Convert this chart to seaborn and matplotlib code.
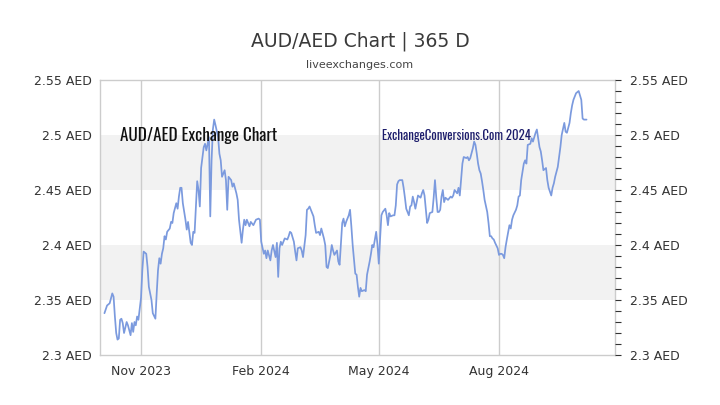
import matplotlib
matplotlib.use("Agg")
import matplotlib.pyplot as plt
import matplotlib.dates as mdates
from matplotlib.ticker import MultipleLocator
import numpy as np
import pandas as pd
import seaborn as sns

# ---------------- data ----------------
ref_date = "2023-11-01"   # day offsets below are counted from this date

days_oct_nov = [-28, -26, -24, -22, -21, -20, -19, -18, -17, -16, -15, -14, -13, -11, -10, -8, -7, -6, -5, -4, -3, -2, -1]
rate_oct_nov = [2.338, 2.345, 2.347, 2.356, 2.353, 2.335, 2.320, 2.314, 2.315, 2.332, 2.333, 2.329, 2.320, 2.330, 2.327, 2.318, 2.329, 2.321, 2.330, 2.327, 2.335, 2.332, 2.342]

days_nov_dec = [0, 1, 2, 4, 5, 6, 8, 9, 11, 12, 13, 14, 15, 16, 17, 18, 19, 20, 22, 23, 24, 25, 27, 28, 29, 30, 31, 32]
rate_nov_dec = [2.352, 2.377, 2.394, 2.392, 2.380, 2.362, 2.350, 2.338, 2.333, 2.356, 2.377, 2.388, 2.383, 2.392, 2.397, 2.408, 2.405, 2.412, 2.415, 2.421, 2.420, 2.429, 2.438, 2.433, 2.444, 2.452, 2.452, 2.438]

days_dec_feb = [34, 35, 36, 38, 39, 40, 41, 43, 44, 45, 46, 48, 49, 50, 52, 53, 54, 55, 56, 57, 59, 60, 61, 62, 64, 65, 66, 67, 69, 70, 71, 73, 74, 75, 77, 78, 79, 80, 81, 83, 84, 86, 88, 90, 91, 92, 94, 95, 96, 97]
rate_dec_feb = [2.423, 2.414, 2.421, 2.402, 2.400, 2.412, 2.411, 2.458, 2.450, 2.435, 2.470, 2.489, 2.492, 2.486, 2.498, 2.426, 2.477, 2.505, 2.514, 2.509, 2.498, 2.483, 2.477, 2.462, 2.468, 2.459, 2.432, 2.462, 2.459, 2.453, 2.456, 2.447, 2.441, 2.423, 2.402, 2.414, 2.423, 2.418, 2.423, 2.417, 2.421, 2.418, 2.423, 2.424, 2.423, 2.403, 2.392, 2.395, 2.388, 2.395]

days_feb_apr = [99, 100, 101, 103, 104, 105, 106, 107, 108, 109, 110, 112, 113, 114, 115, 117, 118, 119, 120, 122, 123, 124, 126, 127, 128, 129, 131, 132, 133, 134, 136, 137, 138, 140, 141, 142, 143, 145, 146, 147, 148, 150, 151, 152, 154, 155, 156, 157, 159, 160, 161, 162]
rate_feb_apr = [2.386, 2.395, 2.400, 2.389, 2.402, 2.371, 2.397, 2.403, 2.400, 2.403, 2.406, 2.405, 2.408, 2.412, 2.411, 2.403, 2.394, 2.386, 2.397, 2.398, 2.395, 2.389, 2.409, 2.432, 2.433, 2.435, 2.429, 2.426, 2.418, 2.411, 2.412, 2.409, 2.415, 2.406, 2.400, 2.380, 2.379, 2.391, 2.400, 2.395, 2.391, 2.395, 2.385, 2.382, 2.420, 2.424, 2.417, 2.421, 2.427, 2.432, 2.417, 2.400]

days_apr_jun = [164, 165, 166, 167, 168, 169, 171, 172, 173, 175, 176, 177, 178, 180, 181, 182, 183, 184, 185, 187, 188, 189, 190, 191, 193, 194, 195, 196, 197, 198, 200, 201, 202, 203, 205, 206, 207, 208, 209, 210, 211, 212, 214, 215, 216, 217, 219, 220, 221, 223, 224, 225, 226, 227, 228]
rate_apr_jun = [2.374, 2.373, 2.362, 2.353, 2.361, 2.358, 2.359, 2.358, 2.373, 2.385, 2.392, 2.400, 2.398, 2.412, 2.400, 2.383, 2.406, 2.427, 2.430, 2.433, 2.427, 2.418, 2.429, 2.426, 2.427, 2.427, 2.436, 2.455, 2.458, 2.459, 2.459, 2.452, 2.443, 2.433, 2.427, 2.435, 2.436, 2.444, 2.439, 2.433, 2.439, 2.445, 2.443, 2.447, 2.450, 2.445, 2.420, 2.423, 2.429, 2.430, 2.443, 2.459, 2.443, 2.430, 2.430]

days_jun_aug = [229, 230, 231, 232, 233, 235, 237, 238, 239, 240, 242, 243, 244, 245, 246, 247, 249, 250, 251, 252, 254, 255, 256, 257, 258, 259, 260, 261, 262, 263, 265, 266, 267, 268, 269, 270, 271, 273, 274, 275, 276, 277, 278, 279, 280, 282, 283, 284, 285, 287, 288, 289]
rate_jun_aug = [2.432, 2.444, 2.450, 2.439, 2.443, 2.441, 2.444, 2.443, 2.445, 2.450, 2.447, 2.452, 2.445, 2.459, 2.474, 2.480, 2.479, 2.480, 2.477, 2.479, 2.488, 2.494, 2.491, 2.483, 2.474, 2.468, 2.465, 2.458, 2.450, 2.441, 2.430, 2.420, 2.408, 2.408, 2.406, 2.405, 2.402, 2.397, 2.391, 2.392, 2.392, 2.391, 2.388, 2.398, 2.405, 2.418, 2.415, 2.423, 2.427, 2.432, 2.436, 2.444]

days_aug_oct = [290, 291, 293, 294, 295, 296, 298, 299, 300, 302, 303, 304, 305, 306, 307, 308, 310, 311, 312, 314, 315, 316, 317, 319, 320, 321, 322, 324, 325, 326, 328, 329, 330, 331, 332, 333, 335, 336, 337, 338, 339, 341]
rate_aug_oct = [2.445, 2.459, 2.474, 2.477, 2.474, 2.491, 2.492, 2.497, 2.494, 2.502, 2.505, 2.497, 2.489, 2.485, 2.477, 2.468, 2.470, 2.459, 2.452, 2.445, 2.452, 2.456, 2.462, 2.471, 2.480, 2.489, 2.500, 2.511, 2.503, 2.502, 2.511, 2.520, 2.527, 2.532, 2.535, 2.538, 2.540, 2.536, 2.532, 2.515, 2.514, 2.514]

y_ticks = [2.3, 2.35, 2.4, 2.45, 2.5, 2.55]
y_tick_labels = ["2.3 AED", "2.35 AED", "2.4 AED", "2.45 AED", "2.5 AED", "2.55 AED"]
x_tick_dates = ["2023-11-01", "2024-02-01", "2024-05-01", "2024-08-01"]
x_tick_labels = ["Nov 2023", "Feb 2024", "May 2024", "Aug 2024"]
bands = [(2.35, 2.40), (2.45, 2.50)]

title = "AUD/AED Chart | 365 D"
subtitle = "liveexchanges.com"
label_left = "AUD/AED Exchange Chart"
label_right = "ExchangeConversions.Com 2024"

# ---------------- build frame ----------------
all_days = (days_oct_nov + days_nov_dec + days_dec_feb + days_feb_apr
            + days_apr_jun + days_jun_aug + days_aug_oct)
all_rates = (rate_oct_nov + rate_nov_dec + rate_dec_feb + rate_feb_apr
             + rate_apr_jun + rate_jun_aug + rate_aug_oct)
base = pd.Timestamp(ref_date)
df = pd.DataFrame({
    "date": base + pd.to_timedelta(all_days, unit="D"),
    "rate": all_rates,
})

# ---------------- style ----------------
sns.set_style("white")
plt.rcParams["font.family"] = ["DejaVu Sans"]

fig = plt.figure(figsize=(7.2, 4.05), dpi=100)
ax = fig.add_axes([100 / 720, 1 - 355 / 405, 515 / 720, 275 / 405])

for lo, hi in bands:
    ax.axhspan(lo, hi, color="#f2f2f2", zorder=0, lw=0)

sns.lineplot(data=df, x="date", y="rate", ax=ax, color="#7b9ade",
             linewidth=1.25, estimator=None, sort=False, zorder=3)

ax.set_xlim(base - pd.Timedelta(days=31.4), base + pd.Timedelta(days=362.8))
ax.set_ylim(2.3, 2.55)

xt = [mdates.date2num(pd.Timestamp(d)) for d in x_tick_dates]
ax.set_xticks(xt)
ax.set_xticklabels(x_tick_labels)
for v in xt:
    ax.axvline(v, color="#cccccc", lw=1.0, zorder=1)

ax.set_yticks(y_ticks)
ax.set_yticklabels(y_tick_labels)
ax.tick_params(axis="both", length=0, labelsize=9, colors="#333333")
ax.tick_params(axis="x", pad=7)
ax.tick_params(axis="y", pad=6)
ax.set_xlabel("")
ax.set_ylabel("")
for s in ax.spines.values():
    s.set_color("#cccccc")
    s.set_linewidth(1.0)

ax2 = ax.twinx()
ax2.set_ylim(2.3, 2.55)
ax2.set_yticks(y_ticks)
ax2.set_yticklabels(y_tick_labels)
ax2.yaxis.set_minor_locator(MultipleLocator(0.01))
ax2.tick_params(axis="y", which="both", length=4, width=0.8, color="#333333",
                labelsize=9, labelcolor="#333333", pad=7, direction="out")
for s in ax2.spines.values():
    s.set_visible(False)
ax2.grid(False)

fig.text(0.5, 1 - 41 / 405, title, ha="center", va="center",
         fontsize=13.5, color="#3a3a3a")
fig.text(0.5, 1 - 65 / 405, subtitle, ha="center", va="center",
         fontsize=8, color="#444444")

ax.text((120 - 100) / 515, (355 - 135) / 275, label_left, transform=ax.transAxes,
        ha="left", va="center", fontsize=12.3, fontweight="semibold", color="#111111",
        family=["Oswald", "DejaVu Sans"], zorder=5)
ax.text((382 - 100) / 515, (355 - 135) / 275, label_right, transform=ax.transAxes,
        ha="left", va="center", fontsize=9.2, color="#1c1c6b",
        family=["Oswald", "DejaVu Sans"], zorder=5)

fig.savefig("out.png", dpi=100)
